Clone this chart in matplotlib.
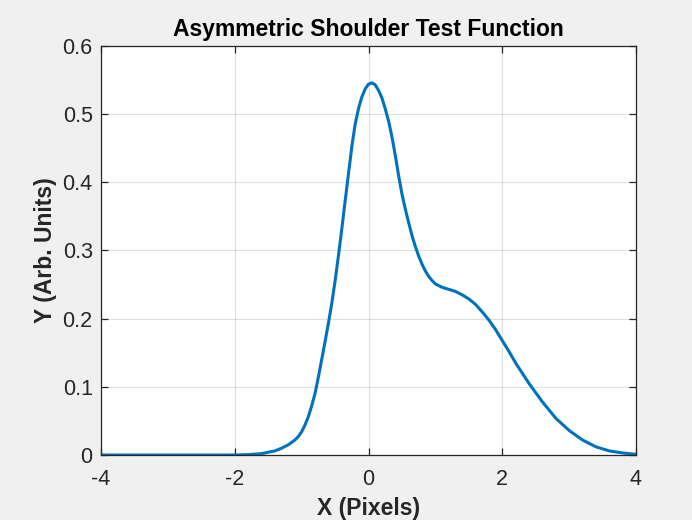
import numpy as np
import matplotlib
matplotlib.use("Agg")
import matplotlib.pyplot as plt

# values
x_px = [-4.0, -3.0, -2.0, -1.8, -1.6, -1.5, -1.4, -1.3, -1.2, -1.1, -1.05, -1.0, -0.95, -0.9,
        -0.85, -0.8, -0.75, -0.7, -0.65, -0.6, -0.55, -0.5, -0.45, -0.4, -0.35, -0.3, -0.25, -0.2,
        -0.15, -0.1, -0.05, 0.0, 0.05, 0.1, 0.15, 0.2, 0.25, 0.3, 0.35, 0.4,
        0.45, 0.5, 0.55, 0.6, 0.65, 0.7, 0.75, 0.8, 0.85, 0.9, 0.95, 1.0,
        1.1, 1.2, 1.3, 1.4, 1.5, 1.6, 1.7, 1.8, 1.9, 2.0, 2.1, 2.2,
        2.4, 2.6, 2.8, 3.0, 3.2, 3.4, 3.6, 3.8, 4.0]
y_arb = [0.0, 0.0, 0.0, 0.0005, 0.002, 0.004, 0.006, 0.010, 0.015, 0.022, 0.027, 0.034, 0.044, 0.056,
         0.072, 0.090, 0.114, 0.140, 0.166, 0.193, 0.222, 0.255, 0.292, 0.331, 0.372, 0.412, 0.452, 0.485,
         0.508, 0.525, 0.537, 0.544, 0.546, 0.543, 0.535, 0.524, 0.508, 0.490, 0.467, 0.440,
         0.410, 0.383, 0.361, 0.341, 0.322, 0.306, 0.292, 0.280, 0.270, 0.262, 0.256, 0.251,
         0.246, 0.243, 0.240, 0.235, 0.229, 0.221, 0.210, 0.198, 0.184, 0.168, 0.152, 0.135,
         0.105, 0.078, 0.054, 0.036, 0.022, 0.012, 0.006, 0.003, 0.001]

xticks = [-4, -2, 0, 2, 4]
yticks = [0, 0.1, 0.2, 0.3, 0.4, 0.5, 0.6]

plt.rcParams['font.family'] = ['Liberation Sans', 'DejaVu Sans']

fig = plt.figure(figsize=(6.92, 5.20), dpi=100, facecolor='#f0f0f0')
ax = fig.add_axes([101/692, 65/520, 535/692, 409/520])
ax.set_facecolor('white')

ax.plot(x_px, y_arb, color='#0072BD', linewidth=2.2, solid_joinstyle='round')

ax.set_xlim(-4, 4)
ax.set_ylim(0, 0.6)
ax.set_xticks(xticks)
ax.set_yticks(yticks)
ax.set_xticklabels([str(t) for t in xticks])
ax.set_yticklabels(['0'] + ['%.1f' % t for t in yticks[1:]])

ax.grid(True, color='#262626', alpha=0.15, linewidth=0.8)
ax.set_axisbelow(True)
for s in ax.spines.values():
    s.set_color('#262626')
    s.set_linewidth(0.9)
ax.tick_params(direction='in', length=5, width=0.9, colors='#262626',
               labelsize=15.5, top=True, right=True)
ax.tick_params(axis='x', pad=10)
ax.tick_params(axis='y', pad=6)

ax.set_title('Asymmetric Shoulder Test Function', fontsize=16.5, fontweight='bold', pad=7)
ax.set_xlabel('X (Pixels)', fontsize=16.5, fontweight='bold', color='#262626', labelpad=5)
ax.set_ylabel('Y (Arb. Units)', fontsize=16.5, fontweight='bold', color='#262626', labelpad=4)

plt.savefig('out.png', dpi=100, facecolor=fig.get_facecolor())
